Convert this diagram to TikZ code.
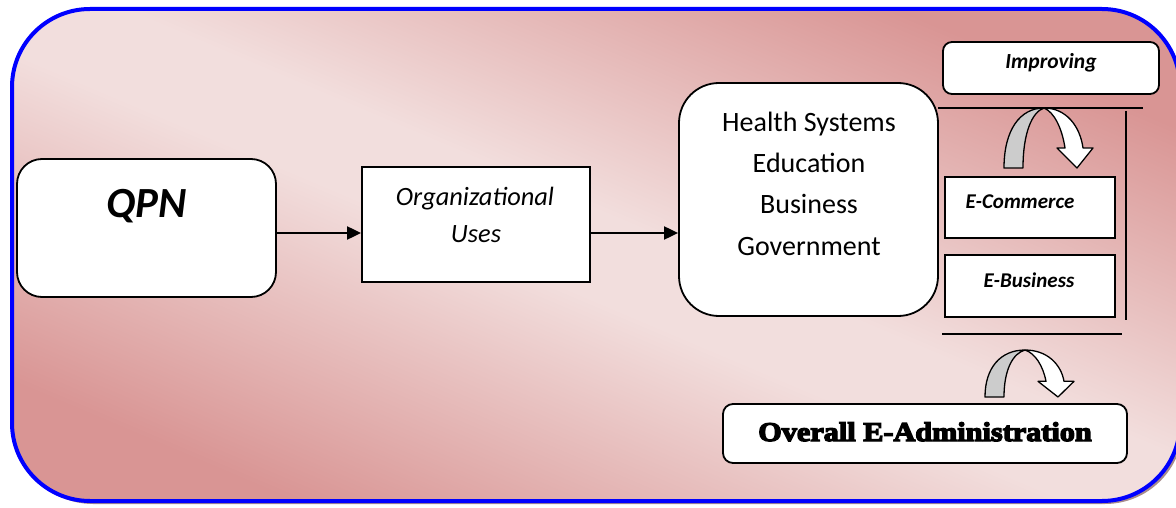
\documentclass[tikz,border=0pt]{standalone}
\usepackage{fontspec}
\setmainfont{Carlito}
\newfontfamily\heavyfont[FakeStretch=1.12, UprightFeatures={FakeBold=5}, BoldFeatures={FakeBold=5}]{Liberation Serif}
\usetikzlibrary{arrows.meta,calc}
\definecolor{bgdark}{HTML}{D99594}
\definecolor{bglight}{HTML}{F2DEDD}
\definecolor{shadowc}{HTML}{A88C8C}
\definecolor{framec}{HTML}{0000FF}
\definecolor{ribbon}{HTML}{CCCCCC}
\pgfdeclareverticalshading{bgshade}{100bp}{color(0bp)=(bgdark); color(25bp)=(bgdark); color(47bp)=(bglight); color(53bp)=(bglight); color(75bp)=(bgdark); color(100bp)=(bgdark)}
\tikzset{
  box/.style={draw=black, fill=white, line width=1.8pt, inner sep=0pt},
  rbox/.style={box, rounded corners=#1},
  conn/.style={draw=black, line width=2pt, -{Triangle[length=14pt,width=13pt]}},
  rule/.style={draw=black, line width=1.6pt},
  ribbonarrow/.pic={
    \draw[line width=1.3pt, fill=white, line join=round]
      (40,-60) .. controls (62,-60) and (76,-42) .. (79,-20) -- (89,-20) -- (73,0) -- (53,-20) -- (61,-20)
      .. controls (58,-40) and (50,-56) .. (40,-60) -- cycle;
    \draw[line width=1.3pt, fill=ribbon, line join=round]
      (0,0) .. controls (0,-38) and (16,-60) .. (40,-60)
      .. controls (28,-56) and (19,-35) .. (19,0) -- cycle;
  },
  lbl/.style={anchor=base, inner sep=0pt}
}
\begin{document}
\begin{tikzpicture}[x=1pt,y=-1pt]
\useasboundingbox (0,0) rectangle (1176,508);
% frame
\fill[shadowc, rounded corners=78pt] (15,12) rectangle (1183,504);
\shade[shading=bgshade, shading angle=-23, rounded corners=78pt]
  (12,9) rectangle (1180,501);
\draw[framec, line width=4pt, rounded corners=78pt] (12,9) rectangle (1180,501);

% boxes
\node[rbox=25pt, minimum width=259pt, minimum height=138pt] (qpn) at (146.5,228) {};
\node[box, minimum width=228pt, minimum height=115pt] (org) at (476,224.5) {};
\node[rbox=40pt, minimum width=259pt, minimum height=233pt] (health) at (808.5,199.5) {};
\node[rbox=9pt, minimum width=216pt, minimum height=52pt] (impr) at (1051,68) {};
\node[box, minimum width=170pt, minimum height=61pt] (ecom) at (1030,207.5) {};
\node[box, minimum width=170pt, minimum height=62pt] (ebus) at (1030,286) {};
\node[rbox=10pt, minimum width=404pt, minimum height=59pt] (overall) at (925,433.5) {};

% texts
\node[lbl, font=\fontsize{43}{50}\selectfont\bfseries\itshape] (qpnt) at (147,217) {QPN};
\node[lbl, font=\fontsize{26.4}{30}\selectfont\itshape] (orgt1) at (475,205) {Organizational};
\node[lbl, font=\fontsize{26.4}{30}\selectfont\itshape] (orgt2) at (476,242) {Uses};
\node[lbl, font=\fontsize{28}{32}\selectfont] (h1) at (809,132) {Health Systems};
\node[lbl, font=\fontsize{28}{32}\selectfont] (h2) at (809,173) {Education};
\node[lbl, font=\fontsize{28}{32}\selectfont] (h3) at (809,213) {Business};
\node[lbl, font=\fontsize{28}{32}\selectfont] (h4) at (809,255) {Government};
\node[lbl, font=\fontsize{21.5}{25}\selectfont\bfseries\itshape] (imprt) at (1051,69) {Improving};
\node[lbl, font=\fontsize{21}{25}\selectfont\bfseries\itshape] (ecomt) at (1020,208.5) {E-Commerce};
\node[lbl, font=\fontsize{21}{25}\selectfont\bfseries\itshape] (ebust) at (1029,287) {E-Business};
\node[lbl, font=\fontsize{27}{31}\selectfont\heavyfont\bfseries] (overallt) at (925,441) {Overall E-Administration};

% connectors
\coordinate (ay) at (0,233);
\draw[conn] (qpn.east |- ay) -- (org.west |- ay);
\draw[conn] (org.east |- ay) -- (health.west |- ay);

% rules
\draw[rule] (938,108) -- (1143,108);
\draw[rule] (1126,111) -- (1126,320);
\draw[rule] (942,334) -- (1122,334);

% ribbon arrows
\pic at (1004,168) {ribbonarrow};
\pic[yscale=0.783] at (985,397) {ribbonarrow};
\end{tikzpicture}
\end{document}
